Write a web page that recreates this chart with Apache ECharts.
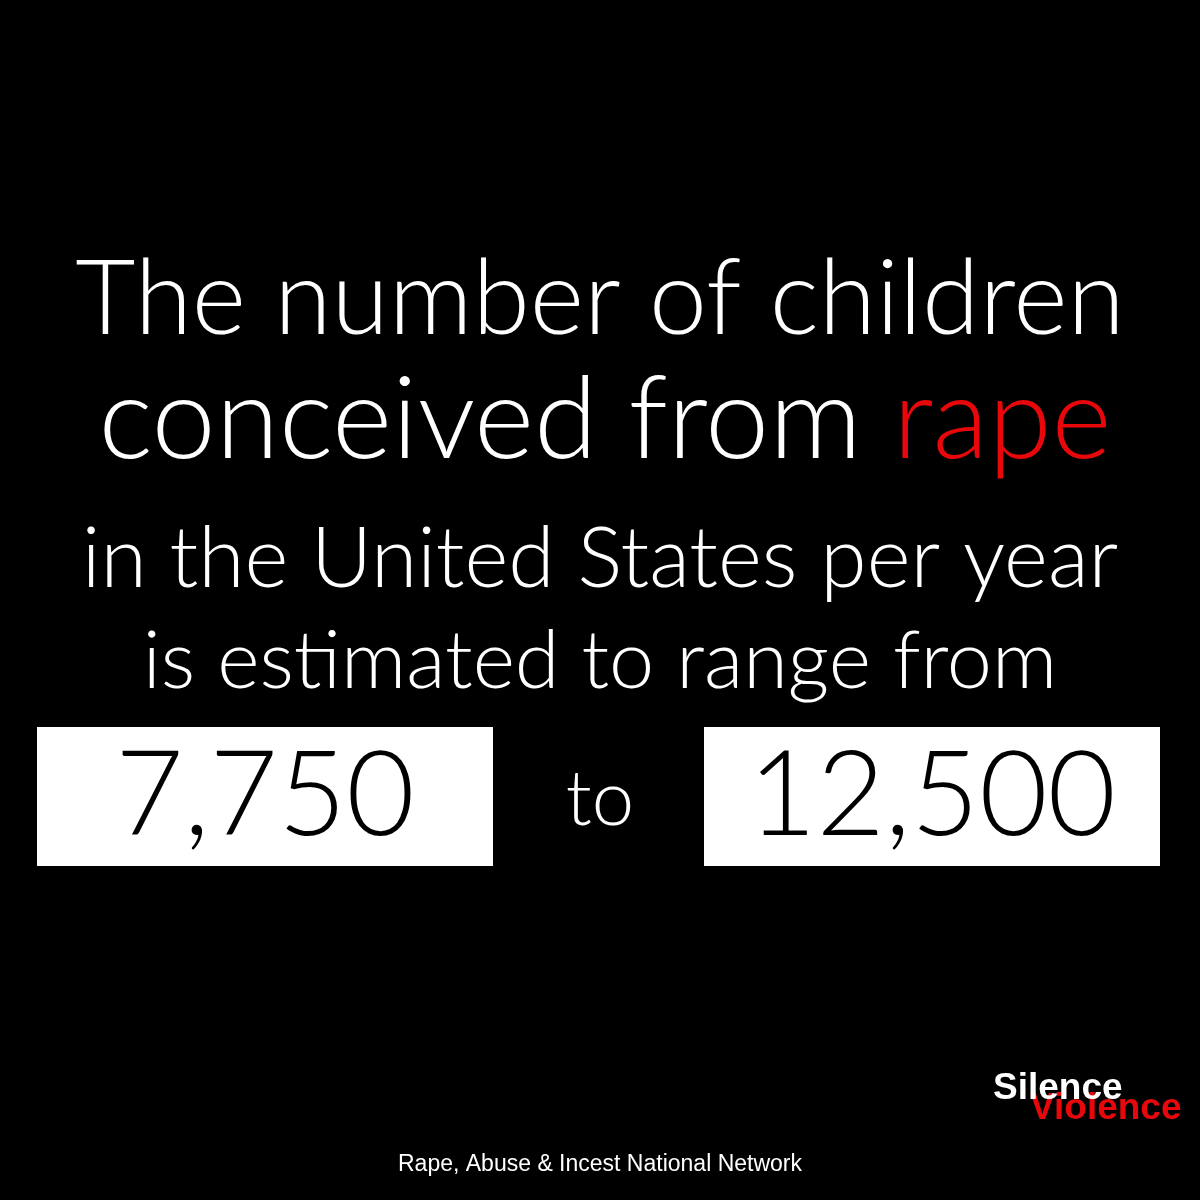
<!DOCTYPE html>
<html><head><meta charset="utf-8">
<script src="https://cdn.jsdelivr.net/npm/echarts@6/dist/echarts.min.js"></script>
<style>html,body{margin:0;background:#000}#c{width:1200px;height:1200px}</style>
</head><body><div id="c"></div>
<script>
const headline = ['The number of children', 'conceived from ', 'in the United States per year', 'is estimated to range from'];
const highlight = 'rape';
const rangeValues = ['7,750', '12,500'];
const rangeWord = 'to';
const source = 'Rape, Abuse & Incest National Network';
const logo = ['Silence', 'Violence'];

const chart = echarts.init(document.getElementById('c'));
const font = (size) => ({fontFamily: 'Lato', fontWeight: 300, fontSize: size});
const lineY = [352, 478, 602, 702];
const lineSize = [104, 115, 84, 81];

let els = [];
headline.forEach((t, i) => {
  if (i === 1) {
    els.push({type: 'text', style: Object.assign({text: '{a|' + t + '}{b|' + highlight + '}', x: 605, y: lineY[i], align: 'center', verticalAlign: 'bottom',
      rich: {a: Object.assign({fill: '#fff'}, font(lineSize[i])), b: Object.assign({fill: '#e8080b'}, font(lineSize[i]))}})});
  } else {
    els.push({type: 'text', style: Object.assign({text: t, x: 600, y: lineY[i], align: 'center', verticalAlign: 'bottom', fill: '#fff'}, font(lineSize[i]))});
  }
});
const boxX = [37, 704];
rangeValues.forEach((v, i) => {
  els.push({type: 'rect', shape: {x: boxX[i], y: 727, width: 456, height: 139}, style: {fill: '#fff'}});
  els.push({type: 'text', style: Object.assign({text: v, x: boxX[i] + 228, y: 797, align: 'center', verticalAlign: 'middle', fill: '#000'}, font(118))});
});
els.push({type: 'text', style: Object.assign({text: rangeWord, x: 600, y: 800, align: 'center', verticalAlign: 'middle', fill: '#fff'}, font(76))});
els.push({type: 'text', style: {text: logo[1], x: 1030, y: 1109, align: 'left', verticalAlign: 'middle', fill: '#e8080b', fontFamily: 'Liberation Sans', fontWeight: 'bold', fontSize: 37}});
els.push({type: 'text', style: {text: logo[0], x: 993, y: 1089, align: 'left', verticalAlign: 'middle', fill: '#fff', fontFamily: 'Liberation Sans', fontWeight: 'bold', fontSize: 37}});
els.push({type: 'text', style: {text: source, x: 600, y: 1165, align: 'center', verticalAlign: 'middle', fill: '#fff', fontFamily: 'Liberation Sans', fontSize: 23}});

chart.setOption({backgroundColor: '#000', graphic: els});
</script></body></html>
